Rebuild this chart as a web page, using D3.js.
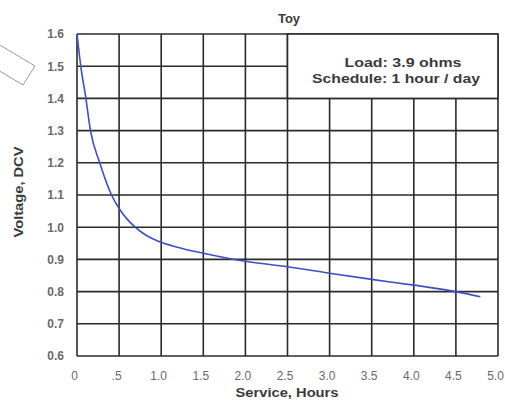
<!DOCTYPE html>
<html><head><meta charset="utf-8">
<script src="https://cdn.jsdelivr.net/npm/d3@7"></script>
<style>body{margin:0;background:#fff}svg{display:block}</style>
</head><body>
<svg id="c" width="505" height="408"></svg>
<script>
const hours   = [0, 0.05, 0.10, 0.16, 0.27, 0.41, 0.50, 0.69, 0.82, 1.0, 1.25, 1.5, 2.0, 2.5, 3.0, 3.5, 4.0, 4.5, 4.79];
const voltage = [1.60, 1.49, 1.41, 1.30, 1.20, 1.10, 1.058, 1.00, 0.975, 0.953, 0.934, 0.919, 0.894, 0.877, 0.857, 0.838, 0.82, 0.80, 0.784];
const xTicks = [0, 0.5, 1.0, 1.5, 2.0, 2.5, 3.0, 3.5, 4.0, 4.5, 5.0];
const xTickLabels = ["0", ".5", "1.0", "1.5", "2.0", "2.5", "3.0", "3.5", "4.0", "4.5", "5.0"];
const yTicks = [0.6, 0.7, 0.8, 0.9, 1.0, 1.1, 1.2, 1.3, 1.4, 1.5, 1.6];
const yTickLabels = ["0.6", "0.7", "0.8", "0.9", "1.0", "1.1", "1.2", "1.3", "1.4", "1.5", "1.6"];
const title = "Toy";
const xTitle = "Service, Hours";
const yTitle = "Voltage, DCV";
const noteLines = ["Load: 3.9 ohms", "Schedule: 1 hour / day"];

const svg = d3.select("#c");
const L = 77, R = 498, T = 34, B = 356;
const x = d3.scaleLinear().domain([0, 5]).range([L, R]);
const y = d3.scaleLinear().domain([0.6, 1.6]).range([B, T]);
const gridCol = "#2a2a2a";
const font = "'Liberation Sans', Arial, sans-serif";

// scan artifact outline
svg.append("polygon")
  .attr("points", "-12,38 35,66 23,85 -24,57")
  .attr("fill", "none").attr("stroke", "#9a9a9a").attr("stroke-width", 1);

// grid
const g = svg.append("g");
g.selectAll("line.v").data(xTicks).join("line")
  .attr("x1", d => x(d)).attr("x2", d => x(d))
  .attr("y1", T).attr("y2", B)
  .attr("stroke", gridCol).attr("stroke-width", 1.6);
g.selectAll("line.h").data(yTicks).join("line")
  .attr("y1", d => y(d)).attr("y2", d => y(d))
  .attr("x1", L).attr("x2", R)
  .attr("stroke", gridCol).attr("stroke-width", 1.6);

// note box
svg.append("rect")
  .attr("x", x(2.5)).attr("y", y(1.6))
  .attr("width", x(5) - x(2.5)).attr("height", y(1.4) - y(1.6))
  .attr("fill", "#fff").attr("stroke", gridCol).attr("stroke-width", 1.6);
const noteX = [403, 396], noteY = [67, 83], noteW = [117, 168];
svg.selectAll("text.note").data(noteLines).join("text")
  .attr("x", (d, i) => noteX[i]).attr("y", (d, i) => noteY[i])
  .attr("text-anchor", "middle").attr("font-family", font)
  .attr("font-weight", "bold").attr("font-size", 13).attr("fill", "#3a3a3a")
  .attr("textLength", (d, i) => noteW[i]).attr("lengthAdjust", "spacingAndGlyphs")
  .text(d => d);

// curve
const pts = hours.map((h, i) => [h, voltage[i]]);
svg.append("path").datum(pts)
  .attr("d", d3.line().x(d => x(d[0])).y(d => y(d[1])).curve(d3.curveMonotoneX))
  .attr("fill", "none").attr("stroke", "#3d4fc8").attr("stroke-width", 1.6);

// axes labels
const xa = svg.append("g").attr("transform", `translate(0,${B})`)
  .call(d3.axisBottom(x).tickValues(xTicks).tickSize(0).tickPadding(15)
    .tickFormat((d, i) => xTickLabels[i]));
xa.select(".domain").remove();
xa.selectAll("text").attr("font-family", font).attr("font-size", 12)
  .attr("fill", "#6a6a6a").attr("dx", -3);

const ya = svg.append("g").attr("transform", `translate(${L},0)`)
  .call(d3.axisLeft(y).tickValues(yTicks).tickSize(0).tickPadding(13)
    .tickFormat((d, i) => yTickLabels[i]));
ya.select(".domain").remove();
ya.selectAll("text").attr("font-family", font).attr("font-size", 12)
  .attr("fill", "#6a6a6a").attr("font-weight", "bold");

svg.append("text").attr("x", 289).attr("y", 23).attr("text-anchor", "middle")
  .attr("font-family", font).attr("font-weight", "bold").attr("font-size", 13)
  .attr("fill", "#3a3a3a").text(title);
svg.append("text").attr("x", 287).attr("y", 397).attr("text-anchor", "middle")
  .attr("font-family", font).attr("font-weight", "bold").attr("font-size", 13)
  .attr("fill", "#3a3a3a").attr("textLength", 103).attr("lengthAdjust", "spacingAndGlyphs")
  .text(xTitle);
svg.append("text").attr("transform", "translate(23,192) rotate(-90)")
  .attr("text-anchor", "middle")
  .attr("font-family", font).attr("font-weight", "bold").attr("font-size", 13)
  .attr("fill", "#3a3a3a").attr("textLength", 91).attr("lengthAdjust", "spacingAndGlyphs")
  .text(yTitle);
</script>
</body></html>
